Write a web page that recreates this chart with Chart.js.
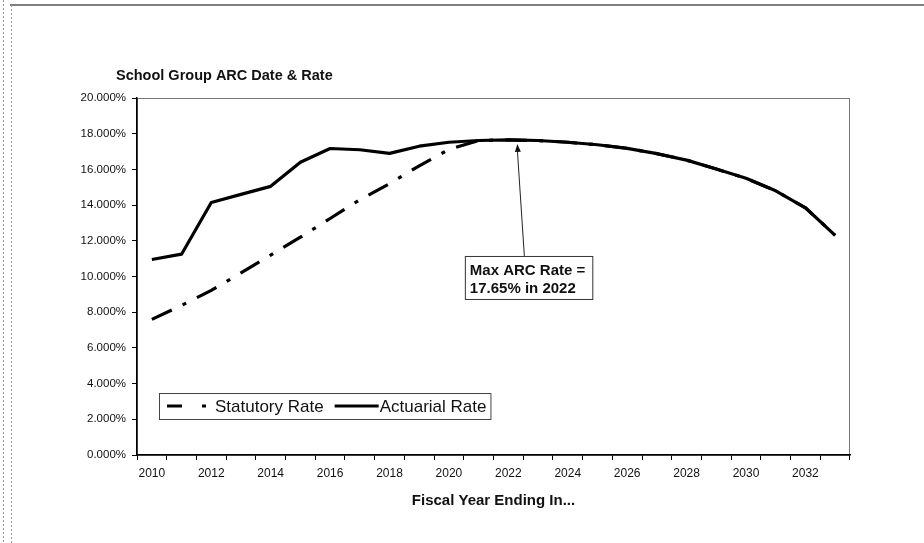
<!DOCTYPE html>
<html>
<head>
<meta charset="utf-8">
<script src="https://cdn.jsdelivr.net/npm/chart.js@4.4.0/dist/chart.umd.min.js"></script>
<style>
    html, body { margin: 0; padding: 0; background: #fff; }
</style>
</head>
<body>
<canvas id="arcChart" width="924" height="543"></canvas>
<script>
const years = ['2010', '2011', '2012', '2013', '2014', '2015', '2016', '2017', '2018', '2019', '2020', '2021',
    '2022', '2023', '2024', '2025', '2026', '2027', '2028', '2029', '2030', '2031', '2032', '2033'];
const statutoryRate = [7.6, 8.38, 9.22, 10.2, 11.2, 12.2, 13.25, 14.3, 15.2, 16.2, 17.12, 17.62,
    17.65, 17.62, 17.52, 17.38, 17.18, 16.88, 16.52, 16.02, 15.5, 14.8, 13.85, 12.3];
const actuarialRate = [10.95, 11.25, 14.15, 14.6, 15.05, 16.4, 17.17, 17.1, 16.9, 17.3, 17.52, 17.62,
    17.65, 17.62, 17.52, 17.38, 17.18, 16.88, 16.52, 16.02, 15.5, 14.8, 13.85, 12.3];
const seriesNames = ['Statutory Rate', 'Actuarial Rate'];
const yMin = 0, yMax = 20, yStep = 2;

const chartTitle = 'School Group ARC Date & Rate';
const xAxisTitle = 'Fiscal Year Ending In...';
const noteLines = ['Max ARC Rate =', '17.65% in 2022'];
const noteYear = '2022';
const noteValue = 17.65;
const noteBoxValue = 11.15; // where the top of the note box sits on the y scale

const fontFamily = '"Liberation Sans", Arial, sans-serif';
Chart.defaults.font.family = fontFamily;
Chart.defaults.color = '#111';

// frame, title, legend box and the note with its arrow
const decorations = {
    id: 'decorations',
    beforeDraw(chart) {
        const ctx = chart.ctx;
        const area = chart.chartArea;
        ctx.save();
        ctx.fillStyle = '#fff';
        ctx.fillRect(0, 0, chart.width, chart.height);

        ctx.strokeStyle = '#555';
        ctx.lineWidth = 1.5;
        ctx.beginPath();
        ctx.moveTo(10, 5);
        ctx.lineTo(chart.width, 5);
        ctx.stroke();

        ctx.setLineDash([2, 2]);
        ctx.strokeStyle = '#999';
        ctx.lineWidth = 1;
        ctx.beginPath();
        ctx.moveTo(11.5, 5);
        ctx.lineTo(11.5, chart.height);
        ctx.moveTo(3.5, 0);
        ctx.lineTo(3.5, chart.height);
        ctx.stroke();
        ctx.setLineDash([]);

        // plot area outline (top and right stay grey)
        ctx.strokeStyle = '#777';
        ctx.lineWidth = 1;
        ctx.strokeRect(area.left + 0.5, area.top + 0.5, area.right - area.left - 1, area.bottom - area.top);
        ctx.restore();
    },
    afterDraw(chart) {
        const ctx = chart.ctx;
        const area = chart.chartArea;
        const xs = chart.scales.x;
        const ys = chart.scales.y;
        ctx.save();

        // chart title
        ctx.fillStyle = '#111';
        ctx.font = 'bold 14.5px ' + fontFamily;
        ctx.textBaseline = 'middle';
        ctx.textAlign = 'left';
        ctx.fillText(chartTitle, area.left - 21, area.top - 22);

        // legend
        const ds = chart.data.datasets;
        ctx.font = '17px ' + fontFamily;
        const lgLeft = area.left + 22;
        const lgTop = area.bottom - 62;
        const lgH = 26;
        const midY = lgTop + lgH / 2 + 1;
        let x = lgLeft + 8;
        const pieces = [];
        pieces.push({ kind: 'dash', x: x, w: 40 });
        x += 48;
        pieces.push({ kind: 'text', x: x, text: ds[0].label });
        x += ctx.measureText(ds[0].label).width + 11;
        pieces.push({ kind: 'solid', x: x, w: 44 });
        x += 45;
        pieces.push({ kind: 'text', x: x, text: ds[1].label });
        x += ctx.measureText(ds[1].label).width + 4;

        ctx.fillStyle = '#fff';
        ctx.fillRect(lgLeft, lgTop, x - lgLeft, lgH);
        ctx.strokeStyle = '#444';
        ctx.lineWidth = 1;
        ctx.strokeRect(lgLeft + 0.5, lgTop + 0.5, x - lgLeft, lgH);

        pieces.forEach(p => {
            if (p.kind === 'text') {
                ctx.fillStyle = '#111';
                ctx.fillText(p.text, p.x, midY);
            } else {
                ctx.strokeStyle = '#000';
                ctx.lineWidth = 3;
                ctx.setLineDash(p.kind === 'dash' ? [15, 20, 4, 30] : []);
                ctx.beginPath();
                ctx.moveTo(p.x, midY - 1);
                ctx.lineTo(p.x + p.w, midY - 1);
                ctx.stroke();
                ctx.setLineDash([]);
            }
        });

        // note box with arrow to the peak
        const idx = years.indexOf(noteYear);
        const px = xs.getPixelForValue(idx);
        const tipX = px + 9;
        const tipY = ys.getPixelForValue(noteValue) + 4;
        const boxTop = ys.getPixelForValue(noteBoxValue);
        const baseX = px + 16;

        ctx.font = 'bold 15px ' + fontFamily;
        const boxLeft = px - 43.5;
        const boxW = Math.max(...noteLines.map(t => ctx.measureText(t).width)) + 12;
        const boxH = 43;

        ctx.strokeStyle = '#222';
        ctx.lineWidth = 1;
        ctx.beginPath();
        ctx.moveTo(baseX, boxTop);
        ctx.lineTo(tipX, tipY + 6);
        ctx.stroke();
        const ang = Math.atan2(tipY - boxTop, tipX - baseX);
        ctx.fillStyle = '#111';
        ctx.beginPath();
        ctx.moveTo(tipX, tipY);
        ctx.lineTo(tipX - 8 * Math.cos(ang) + 3 * Math.sin(ang), tipY - 8 * Math.sin(ang) - 3 * Math.cos(ang));
        ctx.lineTo(tipX - 8 * Math.cos(ang) - 3 * Math.sin(ang), tipY - 8 * Math.sin(ang) + 3 * Math.cos(ang));
        ctx.closePath();
        ctx.fill();

        ctx.fillStyle = '#fff';
        ctx.fillRect(boxLeft, boxTop, boxW, boxH);
        ctx.strokeStyle = '#333';
        ctx.strokeRect(boxLeft + 0.5, boxTop + 0.5, boxW, boxH);
        ctx.fillStyle = '#111';
        ctx.fillText(noteLines[0], boxLeft + 5, boxTop + 15);
        ctx.fillText(noteLines[1], boxLeft + 5, boxTop + 33);

        ctx.restore();
    }
};

const ctx = document.getElementById('arcChart').getContext('2d');
const arcChart = new Chart(ctx, {
    type: 'line',
    data: {
        labels: years,
        datasets: [{
            label: seriesNames[0],
            data: statutoryRate,
            borderColor: '#000',
            borderWidth: 3.2,
            borderDash: [22, 12, 4, 12],
            pointRadius: 0,
            tension: 0,
            order: 2
        }, {
            label: seriesNames[1],
            data: actuarialRate,
            borderColor: '#000',
            borderWidth: 3.2,
            borderJoinStyle: 'round',
            pointRadius: 0,
            tension: 0,
            order: 1
        }]
    },
    options: {
        responsive: false,
        animation: false,
        layout: {
            padding: { left: 10, top: 98, right: 74, bottom: 33 }
        },
        plugins: {
            legend: { display: false },
            tooltip: { enabled: false }
        },
        scales: {
            x: {
                offset: true,
                grid: {
                    offset: true,
                    drawOnChartArea: false,
                    tickLength: 5,
                    tickColor: '#000'
                },
                border: { color: '#000', width: 1.5 },
                ticks: {
                    autoSkip: false,
                    maxRotation: 0,
                    padding: 6,
                    font: { size: 12 },
                    callback: (v, i) => (i % 2 === 0 ? years[i] : '')
                },
                title: {
                    display: true,
                    text: xAxisTitle,
                    color: '#111',
                    font: { size: 15, weight: 'bold' },
                    padding: { top: 0, bottom: 0 }
                },
                afterFit: s => { s.height = 55; }
            },
            y: {
                min: yMin,
                max: yMax,
                grid: {
                    drawOnChartArea: false,
                    tickLength: 5,
                    tickColor: '#000'
                },
                border: { color: '#000', width: 1.5 },
                ticks: {
                    stepSize: yStep,
                    padding: 6,
                    font: { size: 11.5 },
                    callback: v => v.toFixed(3) + '%'
                },
                afterFit: s => { s.width = 127; }
            }
        }
    },
    plugins: [decorations]
});
</script>
</body>
</html>
